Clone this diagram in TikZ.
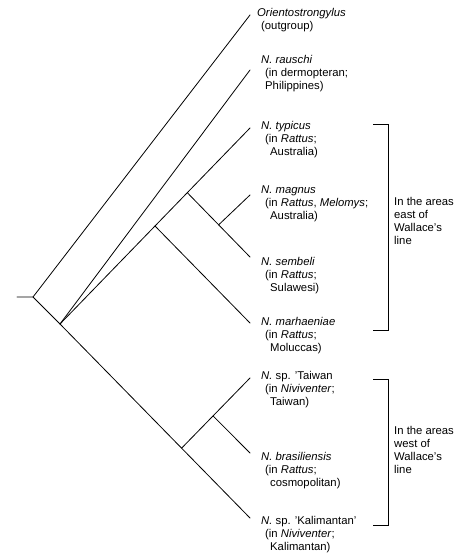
\documentclass[tikz,border=0pt]{standalone}
\usepackage{fontspec}
\setmainfont{Liberation Sans}
\usetikzlibrary{calc}
\tikzset{
  branch/.style={line width=0.8pt, line cap=round},
  bracketln/.style={line width=0.8pt},
  taxon/.style={anchor=north west, inner sep=0pt, align=left,
    font=\fontsize{11.3}{13}\selectfont},
  areatxt/.style={anchor=west, inner sep=0pt, align=left,
    font=\fontsize{11.3}{13}\selectfont},
}
\newcommand{\ind}{\hspace*{4pt}}
\newcommand{\indd}{\hspace*{9pt}}

\begin{document}
\begin{tikzpicture}[x=1pt, y=-1pt]
  \useasboundingbox (0,0) rectangle (474,560);
  % branch tips
  \coordinate (tO) at (250,15);
  \coordinate (tRa) at (250,70);
  \coordinate (tTy) at (250,128);
  \coordinate (tMa) at (250,195);
  \coordinate (tSe) at (250,257);
  \coordinate (tMh) at (250,323);
  \coordinate (tTw) at (250,378);
  \coordinate (tBr) at (250,453);
  \coordinate (tKa) at (250,518);
  % inner nodes of the tree
  \coordinate (r0) at (17,297);
  \coordinate (R) at (33,297);
  \coordinate (A) at (60,324);
  \coordinate (B) at ($(A)!0.5!(tTy)$);
  \coordinate (C) at ($(B)!0.34!(tTy)$);
  \coordinate (D) at ($(C)!0.5!(tSe)$);
  \coordinate (E) at ($(A)!0.64!(tKa)$);
  \coordinate (F) at ($(E)!0.46!(tTw)$);

  \draw[branch] (r0) -- (R) -- (tO);
  \draw[branch] (R) -- (A) -- (tKa);
  \draw[branch] (A) -- (tRa);
  \draw[branch] (A) -- (tTy);
  \draw[branch] (B) -- (tMh);
  \draw[branch] (C) -- (tSe);
  \draw[branch] (D) -- (tMa);
  \draw[branch] (E) -- (tTw);
  \draw[branch] (F) -- (tBr);

  % taxa
  \node[taxon] (O) at (257,8) {\textit{Orientostrongylus}\\\ind(outgroup)};
  \node[taxon] (Ra) at (261,55)
    {\textit{N. rauschi}\\\ind(in dermopteran;\\\ind Philippines)};
  \node[taxon] (Ty) at (261,121)
    {\textit{N. typicus}\\\ind(in \textit{Rattus};\\\indd Australia)};
  \node[taxon] (Ma) at (261,186)
    {\textit{N. magnus}\\\ind(in \textit{Rattus}, \textit{Melomys};\\\indd Australia)};
  \node[taxon] (Se) at (261,257)
    {\textit{N. sembeli}\\\ind(in \textit{Rattus};\\\indd Sulawesi)};
  \node[taxon] (Mh) at (261,317)
    {\textit{N. marhaeniae}\\\ind(in \textit{Rattus};\\\indd Moluccas)};
  \node[taxon] (Tw) at (261,371)
    {\textit{N.} sp. 'Taiwan\\\ind(in \textit{Niviventer};\\\indd Taiwan)};
  \node[taxon] (Br) at (261,452)
    {\textit{N. brasiliensis}\\\ind(in \textit{Rattus};\\\indd cosmopolitan)};
  \node[taxon] (Ka) at (261,516)
    {\textit{N.} sp. 'Kalimantan'\\\ind(in \textit{Niviventer};\\\indd Kalimantan)};

  % areas
  \coordinate (eTop) at (373,124);
  \coordinate (eBot) at (373,330);
  \coordinate (wTop) at (373,379);
  \coordinate (wBot) at (373,525);
  \draw[bracketln] (eTop) -- ++(15,0) |- (eBot);
  \draw[bracketln] (wTop) -- ++(15,0) |- (wBot);
  \node[areatxt] (east) at (394,221) {In the areas\\east of\\Wallace's\\line};
  \node[areatxt] (west) at (394,450) {In the areas\\west of\\Wallace's\\line};
\end{tikzpicture}
\end{document}
